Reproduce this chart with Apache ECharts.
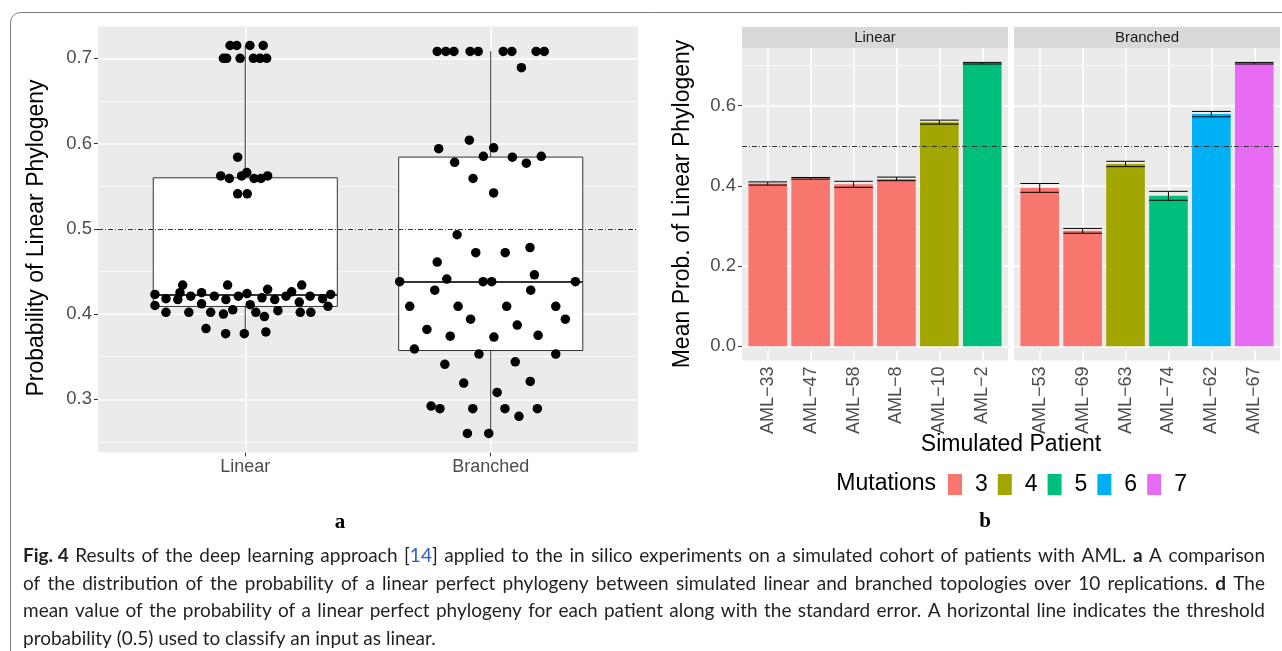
<!DOCTYPE html>
<html>
<head>
<meta charset="utf-8">
<script src="https://cdn.jsdelivr.net/npm/echarts@6.0.0/dist/echarts.min.js"></script>
<style>
  html, body { margin: 0; padding: 0; background: #ffffff; }
  #chart { width: 1282px; height: 651px; }
</style>
</head>
<body>
<div id="chart"></div>
<script>
// ---------------- DATA ----------------
const boxCategories = ['Linear', 'Branched'];
const facets = ['Linear', 'Branched'];
const threshold = 0.5;

// Panel a: jittered points [x position (category 1 / 2 with jitter), probability]
const linearPoints = [
  [0.938,0.715],[0.965,0.715],[1.019,0.715],[1.073,0.715],
  [0.911,0.700],[0.924,0.700],[0.979,0.700],[1.033,0.700],[1.060,0.700],[1.087,0.700],
  [0.969,0.584],[0.900,0.562],[0.935,0.559],[0.985,0.562],[1.006,0.566],[1.036,0.559],[1.064,0.559],[1.091,0.562],[0.969,0.541],[1.008,0.541],
  [0.745,0.434],[0.928,0.434],[1.091,0.429],[1.230,0.434],
  [0.632,0.423],[0.677,0.418],[0.725,0.417],[0.734,0.425],[0.778,0.421],[0.822,0.425],[0.874,0.421],[0.921,0.417],[0.972,0.421],[1.007,0.424],
  [1.068,0.419],[1.120,0.417],[1.166,0.421],[1.189,0.426],[1.220,0.414],[1.264,0.421],[1.315,0.418],[1.348,0.423],
  [0.632,0.410],[0.677,0.402],[0.770,0.402],[0.822,0.412],[0.859,0.402],[0.911,0.400],[0.949,0.405],[1.020,0.411],[1.043,0.402],
  [1.078,0.397],[1.133,0.404],[1.224,0.402],[1.267,0.402],[1.337,0.409],
  [0.840,0.383],[0.920,0.377],[0.996,0.377],[1.084,0.379]
];
const branchedPoints = [
  [1.782,0.708],[1.817,0.708],[1.850,0.708],[1.916,0.708],[1.949,0.708],[2.051,0.708],[2.086,0.708],[2.185,0.708],[2.218,0.708],[2.125,0.689],
  [1.913,0.604],[1.788,0.594],[2.012,0.595],[1.970,0.585],[2.088,0.584],[2.206,0.585],[1.853,0.578],[2.145,0.577],[1.928,0.559],[2.012,0.542],
  [1.863,0.493],[1.939,0.472],[2.059,0.472],[2.160,0.478],[1.782,0.461],[2.178,0.446],[1.629,0.438],[1.821,0.441],[1.969,0.438],[2.004,0.438],
  [2.345,0.438],[1.772,0.428],[2.163,0.428],[1.670,0.409],[1.867,0.409],[2.065,0.409],[2.265,0.409],[1.918,0.394],[2.304,0.394],
  [1.740,0.382],[1.835,0.374],[2.013,0.373],[2.108,0.387],[2.193,0.375],[1.689,0.359],[1.952,0.353],[2.265,0.353],[1.813,0.341],[2.100,0.344],
  [1.890,0.319],[2.161,0.321],[2.026,0.308],[1.757,0.292],[1.793,0.289],[1.927,0.289],[2.058,0.289],[2.115,0.280],[2.190,0.289],
  [1.905,0.260],[1.992,0.260]
];
// box stats: [position, lower whisker, Q1, median, Q3, upper whisker]
const boxStats = [
  [1, 0.3765, 0.4089, 0.4222, 0.5598, 0.7147],
  [2, 0.2604, 0.3572, 0.4375, 0.5841, 0.7084]
];
const yTicksA = [0.3, 0.4, 0.5, 0.6, 0.7];
const yMinorA = [0.25, 0.35, 0.45, 0.55, 0.65];

// Panel b
const patientsLinear = ['AML\u221233', 'AML\u221247', 'AML\u221258', 'AML\u22128', 'AML\u221210', 'AML\u22122'];
const meanLinear = [0.406, 0.419, 0.404, 0.4175, 0.559, 0.706];
const seLinear = [0.004, 0.002, 0.0075, 0.0045, 0.005, 0.002];
const mutLinear = ['3', '3', '3', '3', '4', '5'];

const patientsBranched = ['AML\u221253', 'AML\u221269', 'AML\u221263', 'AML\u221274', 'AML\u221262', 'AML\u221267'];
const meanBranched = [0.395, 0.288, 0.4547, 0.3753, 0.579, 0.706];
const seBranched = [0.011, 0.006, 0.0067, 0.0112, 0.0067, 0.002];
const mutBranched = ['3', '3', '4', '5', '6', '7'];

const mutationLevels = ['3', '4', '5', '6', '7'];
const mutationColors = ['#F8766D', '#A3A500', '#00BF7D', '#00B0F6', '#E76BF3'];
const yTicksB = [0.0, 0.2, 0.4, 0.6];
const yMinorB = [0.1, 0.3, 0.5, 0.7];

// Caption text (rich markup: {b|bold}, {ref|citation})
const captionLines = [
  '{b|Fig. 4} Results of the deep learning approach [{ref|14}] applied to the in silico experiments on a simulated cohort of patients with AML. {b|a} A comparison',
  'of the distribution of the probability of a linear perfect phylogeny between simulated linear and branched topologies over 10 replications. {b|d} The',
  'mean value of the probability of a linear perfect phylogeny for each patient along with the standard error. A horizontal line indicates the threshold',
  'probability (0.5) used to classify an input as linear.'
];

// ---------------- STYLE / LAYOUT ----------------
const FONT = '"Liberation Sans", Arial, Helvetica, sans-serif';
const PANEL_BG = '#EBEBEB';
const TICK_COLOR = '#333333';
const LABEL_COLOR = '#4D4D4D';
const BOX_WIDTH = 0.75;
const BAR_FRAC = 0.9;

const A = { left: 98, top: 26.4, width: 540, height: 426 };
const A_Y = [0.2377, 0.7374];
const B_Y = [-0.0354, 0.7434];
const B_TOP = 48.2, B_H = 312.3, B_W = 266;
const B_LEFT = [742, 1014];
const B_INSET = B_W * 0.1 / 6.2; // ggplot discrete expansion (0.6 of a slot each side vs 0.5)

function gridLines(axis, values, width) {
  return values.map(v => ({ [axis]: v, lineStyle: { color: '#FFFFFF', width: width, type: 'solid' } }));
}
function markLineBase(z, data) {
  return { silent: true, symbol: ['none', 'none'], label: { show: false }, animation: false, z: z, data: data };
}
function thresholdLine() {
  return markLineBase(5, [{ yAxis: threshold, lineStyle: { color: '#333333', width: 1, type: [5, 2, 1, 2] } }]);
}

const grids = [
  { left: A.left, top: A.top, width: A.width, height: A.height, show: true, backgroundColor: PANEL_BG, borderWidth: 0 },
  { left: B_LEFT[0], top: B_TOP, width: B_W, height: B_H, show: true, backgroundColor: PANEL_BG, borderWidth: 0 },
  { left: B_LEFT[1], top: B_TOP, width: B_W, height: B_H, show: true, backgroundColor: PANEL_BG, borderWidth: 0 },
  { left: B_LEFT[0] + B_INSET, top: B_TOP, width: B_W - 2 * B_INSET, height: B_H, show: false },
  { left: B_LEFT[1] + B_INSET, top: B_TOP, width: B_W - 2 * B_INSET, height: B_H, show: false }
];

const hiddenValueX = (g) => ({ type: 'value', gridIndex: g, min: 0, max: 1, show: false });
const xAxes = [
  {
    type: 'value', gridIndex: 0, min: 0.4, max: 2.6,
    axisLine: { show: false }, splitLine: { show: false },
    axisTick: { show: true, customValues: [1, 2], length: 4, lineStyle: { color: TICK_COLOR, width: 1 } },
    axisLabel: { customValues: [1, 2], formatter: v => boxCategories[Math.round(v) - 1], fontSize: 18, color: LABEL_COLOR, fontFamily: FONT, margin: 6 }
  },
  hiddenValueX(1), hiddenValueX(2),
  {
    type: 'category', gridIndex: 3, data: patientsLinear, boundaryGap: true,
    axisLine: { show: false }, splitLine: { show: false },
    axisTick: { show: true, alignWithLabel: true, length: 4, lineStyle: { color: TICK_COLOR, width: 1 } },
    axisLabel: { rotate: 90, interval: 0, fontSize: 18, color: LABEL_COLOR, fontFamily: FONT, margin: 6 }
  },
  {
    type: 'category', gridIndex: 4, data: patientsBranched, boundaryGap: true,
    axisLine: { show: false }, splitLine: { show: false },
    axisTick: { show: true, alignWithLabel: true, length: 4, lineStyle: { color: TICK_COLOR, width: 1 } },
    axisLabel: { rotate: 90, interval: 0, fontSize: 18, color: LABEL_COLOR, fontFamily: FONT, margin: 6 }
  }
];
const yAxes = [
  {
    type: 'value', gridIndex: 0, min: A_Y[0], max: A_Y[1],
    axisLine: { show: false }, splitLine: { show: false },
    axisTick: { show: true, customValues: yTicksA, length: 4, lineStyle: { color: TICK_COLOR, width: 1 } },
    axisLabel: { customValues: yTicksA, formatter: v => v.toFixed(1), fontSize: 18.5, color: LABEL_COLOR, fontFamily: FONT, margin: 6 }
  },
  {
    type: 'value', gridIndex: 1, min: B_Y[0], max: B_Y[1],
    axisLine: { show: false }, splitLine: { show: false },
    axisTick: { show: true, customValues: yTicksB, length: 4, lineStyle: { color: TICK_COLOR, width: 1 } },
    axisLabel: { customValues: yTicksB, formatter: v => v.toFixed(1), fontSize: 18.5, color: LABEL_COLOR, fontFamily: FONT, margin: 6 }
  },
  { type: 'value', gridIndex: 2, min: B_Y[0], max: B_Y[1], show: false, splitLine: { show: false } },
  { type: 'value', gridIndex: 3, min: B_Y[0], max: B_Y[1], show: false, splitLine: { show: false } },
  { type: 'value', gridIndex: 4, min: B_Y[0], max: B_Y[1], show: false, splitLine: { show: false } }
];

const series = [];
// Panel a background grid lines
series.push({
  type: 'scatter', xAxisIndex: 0, yAxisIndex: 0, data: [], silent: true,
  markLine: markLineBase(1, [].concat(
    gridLines('yAxis', yMinorA, 0.8), gridLines('yAxis', yTicksA, 1.6), gridLines('xAxis', [1, 2], 1.6)))
});
// box plot (custom, drawn through axes)
series.push({
  type: 'custom', xAxisIndex: 0, yAxisIndex: 0, z: 2, silent: true,
  data: boxStats,
  encode: { x: 0, y: [1, 2, 3, 4, 5] },
  renderItem: function (params, api) {
    const x = api.value(0);
    const lo = api.value(1), q1 = api.value(2), med = api.value(3), q3 = api.value(4), hi = api.value(5);
    const half = BOX_WIDTH / 2;
    const tl = api.coord([x - half, q3]);
    const br = api.coord([x + half, q1]);
    const cHi = api.coord([x, hi]);
    const cLo = api.coord([x, lo]);
    const mL = api.coord([x - half, med]);
    const mR = api.coord([x + half, med]);
    const stroke = { stroke: '#333333', lineWidth: 1, fill: null };
    return {
      type: 'group', children: [
        { type: 'line', shape: { x1: cHi[0], y1: cHi[1], x2: cHi[0], y2: tl[1] }, style: stroke },
        { type: 'line', shape: { x1: cLo[0], y1: br[1], x2: cLo[0], y2: cLo[1] }, style: stroke },
        { type: 'rect', shape: { x: tl[0], y: tl[1], width: br[0] - tl[0], height: br[1] - tl[1] }, style: { fill: '#FFFFFF', stroke: '#333333', lineWidth: 1 } },
        { type: 'line', shape: { x1: mL[0], y1: mL[1], x2: mR[0], y2: mR[1] }, style: { stroke: '#333333', lineWidth: 2 } }
      ]
    };
  }
});
series.push({ type: 'scatter', name: 'threshA', xAxisIndex: 0, yAxisIndex: 0, data: [], silent: true, markLine: thresholdLine() });
series.push({ type: 'scatter', xAxisIndex: 0, yAxisIndex: 0, z: 3, data: linearPoints, symbolSize: 9.5, itemStyle: { color: '#000000', opacity: 1 }, silent: true });
series.push({ type: 'scatter', xAxisIndex: 0, yAxisIndex: 0, z: 3, data: branchedPoints, symbolSize: 9.5, itemStyle: { color: '#000000', opacity: 1 }, silent: true });

// Panel b
const facetData = [
  { patients: patientsLinear, mean: meanLinear, se: seLinear, mut: mutLinear },
  { patients: patientsBranched, mean: meanBranched, se: seBranched, mut: mutBranched }
];
facetData.forEach((f, k) => {
  const bgIdx = 1 + k, inIdx = 3 + k;
  series.push({
    type: 'scatter', xAxisIndex: bgIdx, yAxisIndex: bgIdx, data: [], silent: true,
    markLine: markLineBase(1, [].concat(gridLines('yAxis', yMinorB, 0.8), gridLines('yAxis', yTicksB, 1.6)))
  });
  series.push({
    type: 'scatter', xAxisIndex: inIdx, yAxisIndex: inIdx, data: [], silent: true,
    markLine: markLineBase(1, gridLines('xAxis', f.patients, 1.6))
  });
  mutationLevels.forEach((lvl, j) => {
    series.push({
      type: 'bar', name: lvl, xAxisIndex: inIdx, yAxisIndex: inIdx, stack: 'facet' + k,
      barWidth: (BAR_FRAC * 100) + '%', z: 2, silent: true,
      itemStyle: { color: mutationColors[j] },
      data: f.mean.map((m, i) => (f.mut[i] === lvl ? m : '-'))
    });
  });
  series.push({
    type: 'custom', xAxisIndex: inIdx, yAxisIndex: inIdx, z: 3, silent: true,
    data: f.mean.map((m, i) => [i, m, f.se[i]]),
    encode: { x: 0, y: 1 },
    renderItem: function (params, api) {
      const i = api.value(0), m = api.value(1), se = api.value(2);
      const half = api.size([1, 0])[0] * BAR_FRAC / 2;
      const top = api.coord([i, m + se]);
      const bot = api.coord([i, m - se]);
      const st = { stroke: '#000000', lineWidth: 1 };
      return {
        type: 'group', children: [
          { type: 'line', shape: { x1: top[0] - half, y1: top[1], x2: top[0] + half, y2: top[1] }, style: st },
          { type: 'line', shape: { x1: bot[0] - half, y1: bot[1], x2: bot[0] + half, y2: bot[1] }, style: st },
          { type: 'line', shape: { x1: top[0], y1: top[1], x2: bot[0], y2: bot[1] }, style: st }
        ]
      };
    }
  });
  series.push({ type: 'scatter', xAxisIndex: bgIdx, yAxisIndex: bgIdx, data: [], silent: true, markLine: thresholdLine() });
});

// ---------------- GRAPHIC (titles, strips, caption) ----------------
const CAP_FONT = 'Lato, "Open Sans", sans-serif';
const CAP_SIZE = 19;
const CAP_LEFT = 23, CAP_RIGHT = 1265;
const captionY = [556, 583.5, 611, 638.5];
const capRich = {
  b: { fontWeight: 'bold', fontSize: CAP_SIZE, fontFamily: CAP_FONT, fill: '#231F20' },
  ref: { fontSize: CAP_SIZE, fontFamily: CAP_FONT, fill: '#2B5FC7' }
};

const measureCtx = document.createElement('canvas').getContext('2d');
function segments(word) {
  const out = []; const re = /\{(\w+)\|([^}]*)\}|([^{]+)/g; let m;
  while ((m = re.exec(word))) { out.push(m[3] !== undefined ? { s: null, t: m[3] } : { s: m[1], t: m[2] }); }
  return out;
}
function fontFor(s) { return (s === 'b' ? 'bold ' : '') + CAP_SIZE + 'px ' + CAP_FONT; }
function wordWidth(word) {
  return segments(word).reduce((acc, g) => { measureCtx.font = fontFor(g.s); return acc + measureCtx.measureText(g.t).width; }, 0);
}
function splitWords(line) {
  const words = []; let cur = '', depth = 0;
  for (const ch of line) {
    if (ch === '{') depth++;
    if (ch === '}') depth--;
    if (ch === ' ' && depth === 0) { if (cur) words.push(cur); cur = ''; } else cur += ch;
  }
  if (cur) words.push(cur);
  return words;
}

const graphics = [
  { type: 'rect', shape: { x: 10.5, y: 12.5, width: 1300, height: 700, r: 10 }, style: { fill: null, stroke: '#7A7A7A', lineWidth: 1 }, silent: true, z: -10 },
  { type: 'text', x: 37, y: 238, rotation: Math.PI / 2, style: { text: 'Probability of Linear Phylogeny', fontSize: 23, fontFamily: FONT, fill: '#000000', textAlign: 'center', textVerticalAlign: 'middle' } },
  { type: 'text', x: 683, y: 204, rotation: Math.PI / 2, style: { text: 'Mean Prob. of Linear Phylogeny', fontSize: 23, fontFamily: FONT, fill: '#000000', textAlign: 'center', textVerticalAlign: 'middle' } },
  { type: 'text', x: 1011, y: 445, style: { text: 'Simulated Patient', fontSize: 23, fontFamily: FONT, fill: '#000000', textAlign: 'center', textVerticalAlign: 'middle' } },
  { type: 'text', x: 936, y: 484, style: { text: 'Mutations', fontSize: 23, fontFamily: FONT, fill: '#000000', textAlign: 'right', textVerticalAlign: 'middle' } },
  { type: 'text', x: 340, y: 523, style: { text: 'a', fontSize: 21, fontWeight: 'bold', fontFamily: '"Liberation Serif", "DejaVu Serif", serif', fill: '#000000', textAlign: 'center', textVerticalAlign: 'middle' } },
  { type: 'text', x: 985, y: 522, style: { text: 'b', fontSize: 21, fontWeight: 'bold', fontFamily: '"Liberation Serif", "DejaVu Serif", serif', fill: '#000000', textAlign: 'center', textVerticalAlign: 'middle' } }
];
facets.forEach((name, k) => {
  graphics.push({ type: 'rect', shape: { x: B_LEFT[k], y: 27, width: B_W, height: B_TOP - 27 }, style: { fill: '#D9D9D9' }, silent: true });
  graphics.push({ type: 'text', x: B_LEFT[k] + B_W / 2, y: 38, style: { text: name, fontSize: 15, fontFamily: FONT, fill: '#1A1A1A', textAlign: 'center', textVerticalAlign: 'middle' } });
});
// justified caption: each word placed through measured widths
captionLines.forEach((line, li) => {
  const words = splitWords(line);
  const widths = words.map(wordWidth);
  const total = widths.reduce((a, b) => a + b, 0);
  measureCtx.font = fontFor(null);
  const spaceW = measureCtx.measureText(' ').width;
  const justify = li < captionLines.length - 1;
  const gap = justify ? (CAP_RIGHT - CAP_LEFT - total) / (words.length - 1) : spaceW;
  let x = CAP_LEFT;
  words.forEach((w, wi) => {
    graphics.push({ type: 'text', x: x, y: captionY[li], silent: true,
      style: { text: w, rich: capRich, fontSize: CAP_SIZE, fontFamily: CAP_FONT, fill: '#231F20', textAlign: 'left', textVerticalAlign: 'middle' } });
    x += widths[wi] + gap;
  });
});

const option = {
  animation: false,
  backgroundColor: '#FFFFFF',
  grid: grids,
  xAxis: xAxes,
  yAxis: yAxes,
  legend: {
    show: true, data: mutationLevels, left: 948, top: 473, orient: 'horizontal', padding: 0,
    icon: 'rect', itemWidth: 14, itemHeight: 21, itemGap: 10, selectedMode: false,
    textStyle: { fontSize: 23, color: '#000000', fontFamily: FONT, padding: [0, 0, 0, 8] }
  },
  graphic: { elements: graphics },
  series: series
};

const chart = echarts.init(document.getElementById('chart'), null, { renderer: 'canvas' });
chart.setOption(option);
</script>
</body>
</html>
